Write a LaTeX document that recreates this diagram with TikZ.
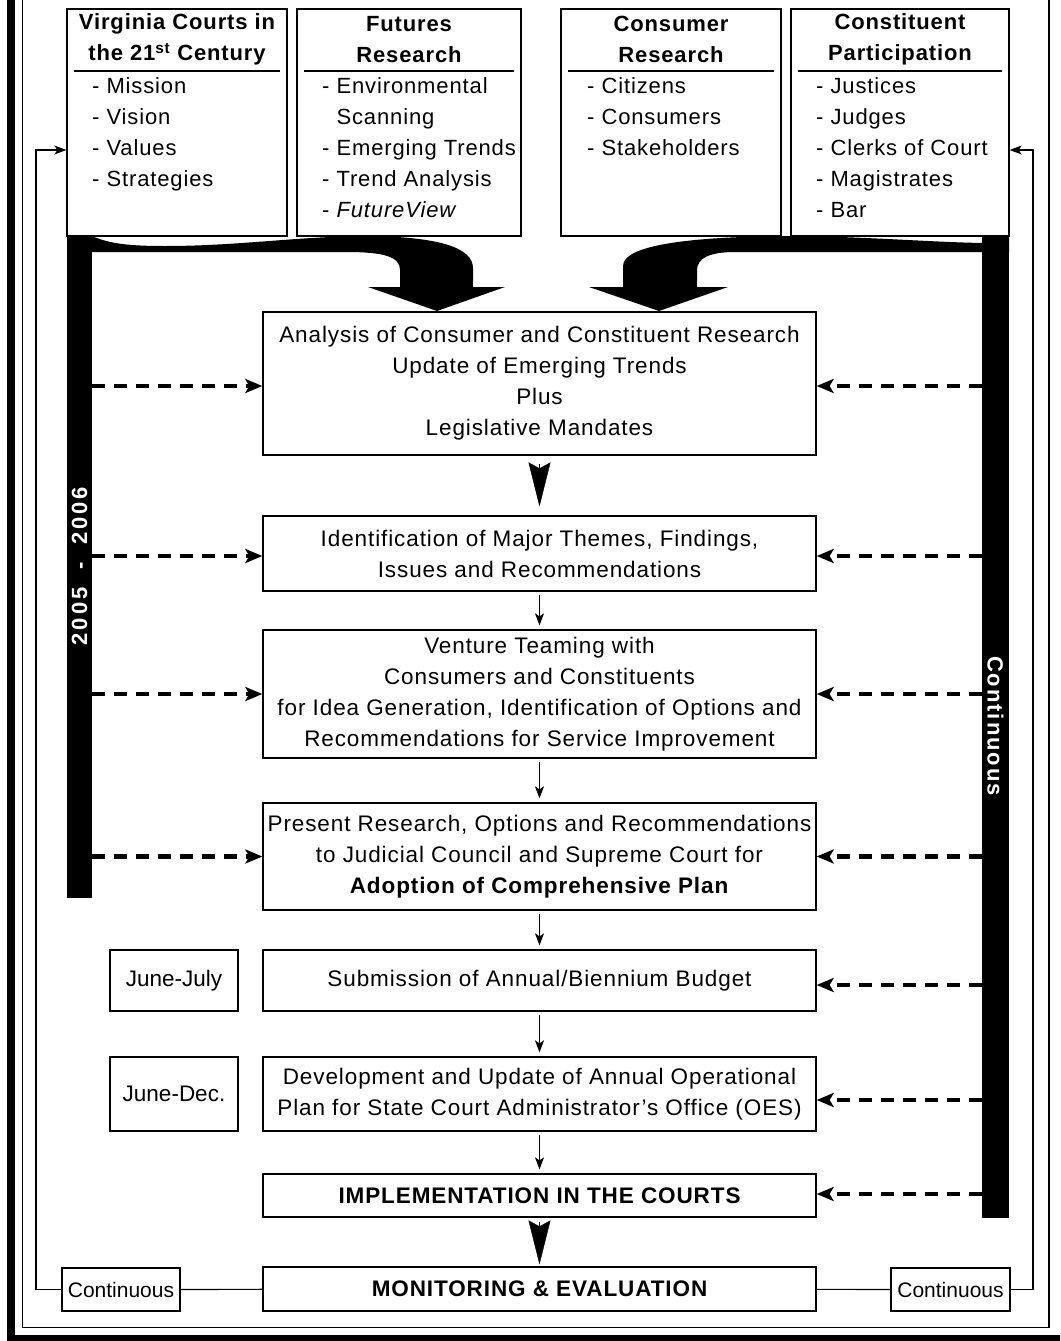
\documentclass[tikz,border=0pt]{standalone}
\usepackage{fontspec}
\setmainfont{Liberation Sans}
\newfontfamily\spfont[LetterSpace=4]{Liberation Sans}
\newfontfamily\yearfont[LetterSpace=13,WordSpace=2]{Liberation Sans}
\newfontfamily\contfont[LetterSpace=9]{Liberation Sans}
\usetikzlibrary{arrows.meta}
\newcommand\mainsize{\fontsize{22}{31}\selectfont}
\newcommand\midsize{\fontsize{22.5}{31}\selectfont}
\newcommand\smallsize{\fontsize{21}{24}\selectfont}
\newcommand\junesize{\fontsize{22.5}{24}\selectfont}
\newcommand\barsize{\fontsize{22}{24}\selectfont}
\begin{document}
\begin{tikzpicture}[x=1pt,y=-1pt,
  frameline/.style={line width=1.2pt},
  box/.style={draw,line width=1.3pt,inner sep=0pt,font=\spfont\midsize,align=center},
  topbox/.style={draw,line width=1.3pt,inner sep=0pt},
  ttl/.style={inner sep=0pt,font=\spfont\mainsize\bfseries,align=center},
  lst/.style={inner sep=0pt,font=\spfont\mainsize,align=left,anchor=north west},
  sidebox/.style={draw,line width=1.3pt,inner sep=0pt,font=\smallsize},
  junebox/.style={sidebox,font=\junesize},
  bar/.style={fill=black,inner sep=0pt,draw=none},
  barlbl/.style={text=white,inner sep=0pt},
  dasharr/.style={line width=4.5pt,dash pattern=on 13pt off 9pt,-{Stealth[length=17pt,width=14pt,inset=4pt]}},
  thinarr/.style={line width=1.2pt,-{Stealth[length=12pt,width=9pt,inset=3pt]}},
  bigarr/.style={line width=0.4pt,-{Stealth[length=44pt,width=22pt,inset=6pt]}},
  fb/.style={line width=1.2pt},
  fbarr/.style={line width=1.2pt,-{Stealth[length=12pt,width=9pt,inset=3pt]}}
]
\useasboundingbox (0,0) rectangle (1060,1341);
\clip (0,0) rectangle (1060,1341);
\fill[white] (0,0) rectangle (1060,1341);

% frame
\draw[line width=8pt] (11,-10) -- (11,1339) -- (1070,1339);
\draw[frameline] (22.5,-10) |- (1049,1327.5) -- (1049,-10);

% top boxes
\node[topbox,minimum width=220pt,minimum height=227pt] (vc) at (177,122.5) {};
\node[ttl] (vct) at (177,39.5) {Virginia Courts in\\the 21\textsuperscript{st} Century};
\draw[line width=1.3pt] (74,71) -- (280,71);
\node[lst] (vcl) at (92,77.5) {- Mission\\- Vision\\- Values\\- Strategies};

\node[topbox,minimum width=224pt,minimum height=227pt] (fr) at (409,122.5) {};
\node[ttl] (frt) at (409,39.5) {Futures\\Research};
\draw[line width=1.3pt] (304,71) -- (514,71);
\node[lst] (frl) at (322,77.5) {- Environmental\\\phantom{- }Scanning\\- Emerging Trends\\- Trend Analysis\\- \textit{FutureView}};

\node[topbox,minimum width=220pt,minimum height=227pt] (cs) at (671,122.5) {};
\node[ttl] (cst) at (671,39.5) {Consumer\\Research};
\draw[line width=1.3pt] (568,71) -- (774,71);
\node[lst] (csl) at (587,77.5) {- Citizens\\- Consumers\\- Stakeholders};

\node[topbox,minimum width=218pt,minimum height=227pt] (cp) at (900,122.5) {};
\node[ttl] (cpt) at (900,39.5) {Constituent\\Participation};
\draw[line width=1.3pt] (798,71) -- (1002,71);
\node[lst] (cpl) at (816,77.5) {- Justices\\- Judges\\- Clerks of Court\\- Magistrates\\- Bar};

% bars
\node[bar,minimum width=25pt,minimum height=662pt] (lbar) at (79.5,567) {};
\node[barlbl,rotate=90,font=\yearfont\barsize\bfseries] (lbl) at (79.5,566) {2005 - 2006};
\node[bar,minimum width=27pt,minimum height=982pt] (rbar) at (995.5,727) {};
\node[barlbl,rotate=-90,font=\contfont\barsize\bfseries] (rbl) at (995.5,726) {Continuous};

% curved bands
\fill (67,236) -- (92,236) .. controls (110,244) and (130,246) .. (165,246)
  .. controls (240,246) and (300,236) .. (370,236)
  .. controls (440,237) and (473,248) .. (473,268) -- (473,287) -- (505,287)
  -- (437,311) -- (368,287) -- (400,287) -- (400,270)
  .. controls (400,257) and (385,252) .. (346,252) -- (67,252) -- cycle;
\fill (1009,236) -- (982,243) .. controls (930,242) and (870,237) .. (800,236)
  .. controls (690,236) and (623,245) .. (623,266) -- (623,287) -- (589,287)
  -- (659,311) -- (728,287) -- (697,287) -- (697,270)
  .. controls (697,258) and (710,252) .. (735,252) -- (1009,252) -- cycle;

% middle boxes
\node[box,minimum width=553pt,minimum height=143pt] (b1) at (539.5,383.5) {Analysis of Consumer and Constituent Research\\Update of Emerging Trends\\Plus\\Legislative Mandates};
\node[box,minimum width=553pt,minimum height=75pt] (b2) at (539.5,553.5) {Identification of Major Themes, Findings,\\Issues and Recommendations};
\node[box,minimum width=553pt,minimum height=128pt] (b3) at (539.5,694) {Venture Teaming with\\Consumers and Constituents\\for Idea Generation, Identification of Options and\\Recommendations for Service Improvement};
\node[box,minimum width=553pt,minimum height=107pt] (b4) at (539.5,856.5) {Present Research, Options and Recommendations\\to Judicial Council and Supreme Court for\\\textbf{Adoption of Comprehensive Plan}};
\node[box,minimum width=553pt,minimum height=61pt] (b5) at (539.5,980.5) {Submission of Annual/Biennium Budget};
\node[box,minimum width=553pt,minimum height=74pt] (b6) at (539.5,1094) {Development and Update of Annual Operational\\Plan for State Court Administrator’s Office (OES)};
\node[box,minimum width=553pt,minimum height=43pt] (b7) at (539.5,1195.5) {\bfseries IMPLEMENTATION IN THE COURTS};
\node[box,minimum width=553pt,minimum height=44pt] (b8) at (539.5,1289) {\bfseries MONITORING \& EVALUATION};

% side boxes
\node[junebox,minimum width=128pt,minimum height=61pt] (jj) at (174,980.5) {June-July};
\node[junebox,minimum width=128pt,minimum height=74pt] (jd) at (174,1094) {June-Dec.};
\node[sidebox,minimum width=118pt,minimum height=43pt] (cl) at (121,1289.5) {Continuous};
\node[sidebox,minimum width=119pt,minimum height=43pt] (cr) at (950.5,1289.5) {Continuous};

% vertical flow arrows
\draw[bigarr,shorten <=8pt,shorten >=9pt] (b1) -- (b2);
\draw[thinarr,shorten <=3pt,shorten >=4pt] (b2) -- (b3);
\draw[thinarr,shorten <=3pt,shorten >=4pt] (b3) -- (b4);
\draw[thinarr,shorten <=3pt,shorten >=4pt] (b4) -- (b5);
\draw[thinarr,shorten <=3pt,shorten >=4pt] (b5) -- (b6);
\draw[thinarr,shorten <=3pt,shorten >=4pt] (b6) -- (b7);
\draw[bigarr,shorten <=4pt,shorten >=2pt] (b7) -- (b8);

% dashed arrows left
\draw[dasharr] ([yshift=-2.5pt]lbar.east |- b1.west) -- ([yshift=-2.5pt]b1.west);
\draw[dasharr] ([yshift=-2.5pt]lbar.east |- b2.west) -- ([yshift=-2.5pt]b2.west);
\draw[dasharr] (lbar.east |- b3.west) -- (b3.west);
\draw[dasharr] (lbar.east |- b4.west) -- (b4.west);
% dashed arrows right
\draw[dasharr] ([yshift=-2.5pt]rbar.west |- b1.east) -- ([yshift=-2.5pt]b1.east);
\draw[dasharr] ([yshift=-2.5pt]rbar.west |- b2.east) -- ([yshift=-2.5pt]b2.east);
\draw[dasharr] (rbar.west |- b3.east) -- (b3.east);
\draw[dasharr] (rbar.west |- b4.east) -- (b4.east);
\draw[dasharr] ([yshift=-4.5pt]rbar.west |- b5.east) -- ([yshift=-4.5pt]b5.east);
\draw[dasharr] ([yshift=-6pt]rbar.west |- b6.east) -- ([yshift=-6pt]b6.east);
\draw[dasharr] ([yshift=1.5pt]rbar.west |- b7.east) -- ([yshift=1.5pt]b7.east);

% feedback loops
\coordinate (fl) at (36,150);
\coordinate (frc) at (1033,150);
\draw[fb] (cl) -- (b8);
\draw[fb] (b8) -- (cr);
\draw[fbarr] (cl.west) -| (fl) -- (vc.west |- fl);
\draw[fbarr] (cr.east) -| (frc) -- (cp.east |- frc);
\end{tikzpicture}
\end{document}
